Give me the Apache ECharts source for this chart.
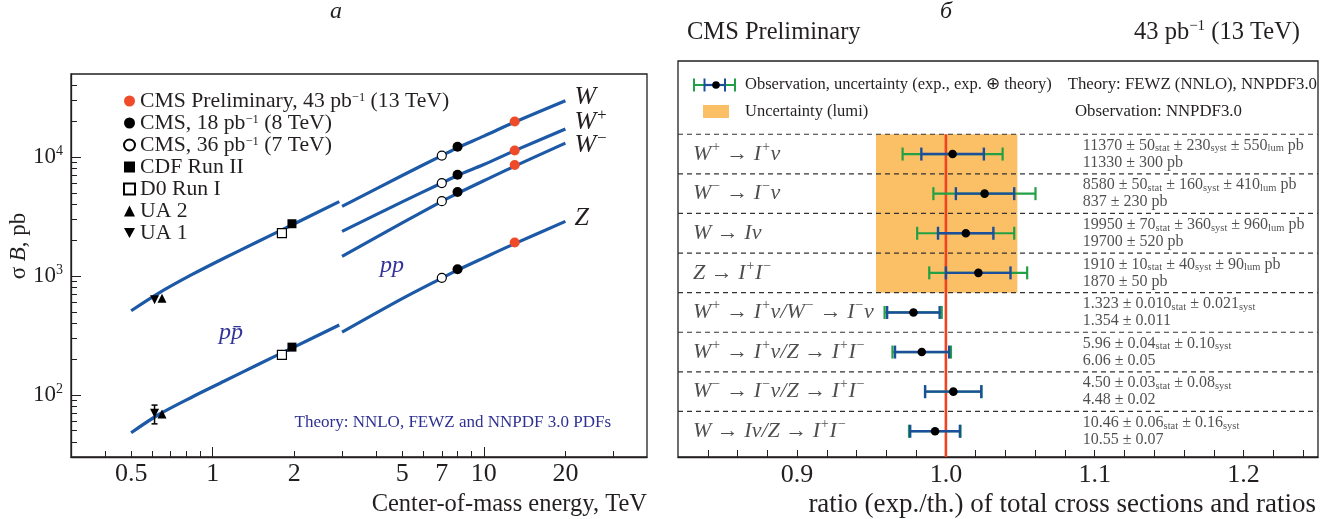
<!DOCTYPE html>
<html>
<head>
<meta charset="utf-8">
<script src="https://cdn.jsdelivr.net/npm/echarts@6/dist/echarts.min.js"></script>
<style>
  html, body { margin: 0; padding: 0; background: #fff; }
  #chart { width: 1334px; height: 519px; }
</style>
</head>
<body>
<div id="chart"></div>
<script>
// ---- panel a: sigma*B vs centre-of-mass energy (TeV, pb) ----
const ppbarE = [0.5, 0.63, 0.84, 1.1, 1.47, 1.95, 2.93];
const wPpbar = [510, 715, 1030, 1410, 1950, 2670, 4220];
const zPpbar = [48, 68, 96, 130, 180, 246, 387];
const ppE = [3, 5, 7, 8, 10, 13, 20];
const wPp = [3850, 7000, 10300, 12000, 15000, 19700, 29800];
const wPlusPp = [2370, 4200, 6050, 7000, 8650, 11330, 17200];
const wMinusPp = [1460, 2800, 4240, 4950, 6320, 8400, 13100];
const zPp = [337, 645, 960, 1120, 1420, 1870, 2880];

// measurements: W, W+, W-, Z  (or W, Z for ppbar)
const cms13E = 13, cms13 = [19950, 11370, 8580, 1910];
const cms8E = 8, cms8 = [12200, 7100, 5080, 1140];
const cms7E = 7, cms7 = [10300, 6040, 4260, 965];
const cdfE = 1.96, cdf = [2750, 252];
const d0E = 1.8, d0 = [2290, 217];
const ua2E = 0.65, ua2 = [651, 69];
const ua1E = 0.61, ua1 = [631, 70];
const ua1ZErr = [57, 82];

const xLabelVals = [0.5, 1, 2, 5, 7, 10, 20];
const xMajorTicks = [1, 10];
const xMinorTicks = [0.4, 0.5, 0.6, 0.7, 0.8, 0.9, 2, 3, 4, 5, 6, 7, 8, 9, 20, 30];
const yLabelPowers = [2, 3, 4];
const yMinorTicks = [40, 50, 60, 70, 80, 90, 200, 300, 400, 500, 600, 700, 800, 900,
  2000, 3000, 4000, 5000, 6000, 7000, 8000, 9000, 20000, 30000, 40000];

const legendText = {
  cms13: '{t|CMS Preliminary, 43 pb}{s|−1}{t| (13 TeV)}',
  cms8: '{t|CMS, 18 pb}{s|−1}{t| (8 TeV)}',
  cms7: '{t|CMS, 36 pb}{s|−1}{t| (7 TeV)}',
  cdf: '{t|CDF Run II}',
  d0: '{t|D0 Run I}',
  ua2: '{t|UA 2}',
  ua1: '{t|UA 1}'
};

// ---- panel b: ratio exp./theory ----
const rowLabels = ['W⁺ → I⁺ν', 'W⁻ → I⁻ν', 'W → Iν', 'Z → I⁺I⁻',
  'W⁺ → I⁺ν/W⁻ → I⁻ν', 'W⁺ → I⁺ν/Z → I⁺I⁻', 'W⁻ → I⁻ν/Z → I⁺I⁻', 'W → Iν/Z → I⁺I⁻'];
const ratio = [1.0045, 1.026, 1.0134, 1.0218, 0.9782, 0.9838, 1.005, 0.9927];
const expLo = [0.9835, 1.0067, 0.9947, 1.0, 0.9605, 0.9658, 0.986, 0.9760];
const expHi = [1.0255, 1.0459, 1.0319, 1.0434, 0.9958, 1.0022, 1.0238, 1.0094];
const totLo = [0.9709, 0.9916, 0.9807, 0.9888, 0.9588, 0.9641, 0.986, 0.9752];
const totHi = [1.0381, 1.0602, 1.0459, 1.0546, 0.9972, 1.0034, 1.0238, 1.0098];
const measured = [
  '11370 ± 50_stat ± 230_syst ± 550_lum pb',
  '8580 ± 50_stat ± 160_syst ± 410_lum pb',
  '19950 ± 70_stat ± 360_syst ± 960_lum pb',
  '1910 ± 10_stat ± 40_syst ± 90_lum pb',
  '1.323 ± 0.010_stat ± 0.021_syst',
  '5.96 ± 0.04_stat ± 0.10_syst',
  '4.50 ± 0.03_stat ± 0.08_syst',
  '10.46 ± 0.06_stat ± 0.16_syst'
];
const predicted = ['11330 ± 300 pb', '837 ± 230 pb', '19700 ± 520 pb', '1870 ± 50 pb',
  '1.354 ± 0.011', '6.06 ± 0.05', '4.48 ± 0.02', '10.55 ± 0.07'];
const lumiBand = [0.953, 1.048];
const separators = [-0.5, 0.5, 1.5, 2.5, 3.5, 4.5, 5.5, 6.5];
const ratioTicks = [0.84, 0.86, 0.88, 0.9, 0.92, 0.94, 0.96, 0.98, 1.0, 1.02, 1.04, 1.06,
  1.08, 1.1, 1.12, 1.14, 1.16, 1.18, 1.2, 1.22, 1.24];
const ratioLabels = [0.9, 1.0, 1.1, 1.2];

const serif = 'Liberation Serif';
const ink = '#231f20';
const curveBlue = '#1c59a7';
const lg = Math.log10;

function richLabel(s) {
  let out = '';
  for (const ch of s) {
    if (ch === '⁺') out += '{sp|+}';
    else if (ch === '⁻') out += '{sp|−}';
    else if (ch === '→') out += '{n|→}';
    else out += ch;
  }
  return out;
}
const richValue = s => s.replace(/_(\w+)/g, '{sb|$1}');

function curve(E, S, label, offset) {
  return {
    type: 'line', xAxisIndex: 0, yAxisIndex: 0, silent: true, z: 2,
    data: E.map((e, i) => [lg(e), lg(S[i])]),
    smooth: 0.3, symbol: 'none',
    lineStyle: { color: curveBlue, width: 3.2 },
    endLabel: {
      show: !!label, formatter: label || '', distance: 9, offset: offset || [0, 0],
      color: ink, fontFamily: serif, fontStyle: 'italic', fontSize: 26, lineHeight: 30,
      rich: { s: { fontFamily: serif, fontStyle: 'italic', fontSize: 17, lineHeight: 16, verticalAlign: 'top', color: ink } }
    }
  };
}

function points(name, E, S, symbol, color, size, hollow) {
  return {
    type: 'scatter', name, xAxisIndex: 0, yAxisIndex: 0, z: 5,
    data: S.map(s => [lg(E), lg(s)]),
    symbol, symbolSize: size,
    itemStyle: hollow
      ? { color: '#fff', borderColor: color, borderWidth: 1.2, opacity: 1 }
      : { color, opacity: 1 }
  };
}

const chart = echarts.init(document.getElementById('chart'));

const option = {
  animation: false,
  backgroundColor: '#fff',
  textStyle: { fontFamily: serif },
  grid: [
    { left: 71, top: 74, width: 576, height: 383, show: true, borderColor: ink, borderWidth: 1.3 },
    { left: 678, top: 61, width: 640, height: 396, show: true, borderColor: ink, borderWidth: 1.3 }
  ],
  xAxis: [
    {
      gridIndex: 0, type: 'value', min: lg(0.3), max: lg(40), position: 'bottom',
      axisLine: { onZero: false, lineStyle: { color: ink, width: 1.3 } },
      axisTick: { inside: true, length: 10, customValues: xMajorTicks.map(lg), lineStyle: { color: ink, width: 1 } },
      axisLabel: {
        customValues: xLabelVals.map(lg), margin: 4,
        formatter: v => String(Math.round(Math.pow(10, v) * 10) / 10),
        fontFamily: serif, fontSize: 26, color: ink
      },
      splitLine: { show: false }
    },
    {
      gridIndex: 0, type: 'value', min: lg(0.3), max: lg(40), position: 'bottom',
      axisLine: { show: false, onZero: false },
      axisTick: { inside: true, length: 6, customValues: xMinorTicks.map(lg), lineStyle: { color: ink, width: 1 } },
      axisLabel: { show: false },
      splitLine: { show: false }
    },
    {
      gridIndex: 1, type: 'value', min: 0.82, max: 1.25, position: 'bottom',
      axisLine: { onZero: false, lineStyle: { color: ink, width: 1.3 } },
      axisTick: { inside: true, length: 7, customValues: ratioTicks, lineStyle: { color: ink, width: 1 } },
      axisLabel: {
        customValues: ratioLabels, margin: 5, formatter: v => v.toFixed(1),
        fontFamily: serif, fontSize: 26, color: ink
      },
      splitLine: { show: false }
    }
  ],
  yAxis: [
    {
      gridIndex: 0, type: 'value', min: lg(30), max: lg(50000), position: 'left',
      axisLine: { onZero: false, lineStyle: { color: ink, width: 1.3 } },
      axisTick: { inside: true, length: 10, customValues: yLabelPowers, lineStyle: { color: ink, width: 1 } },
      axisLabel: {
        customValues: yLabelPowers, margin: 8,
        formatter: v => '10{s|' + v + '}',
        fontFamily: serif, fontSize: 23, color: ink, lineHeight: 26,
        rich: { s: { fontFamily: serif, fontSize: 14, lineHeight: 16, verticalAlign: 'top', color: ink } }
      },
      splitLine: { show: false }
    },
    {
      gridIndex: 0, type: 'value', min: lg(30), max: lg(50000), position: 'left',
      axisLine: { show: false, onZero: false },
      axisTick: { inside: true, length: 6, customValues: yMinorTicks.map(lg), lineStyle: { color: ink, width: 1 } },
      axisLabel: { show: false },
      splitLine: { show: false }
    },
    {
      gridIndex: 1, type: 'value', inverse: true, min: -2.35, max: 7.65, show: false,
      axisLine: { onZero: false }
    }
  ],
  legend: {
    orient: 'vertical', left: 118, top: 85, itemWidth: 11, itemHeight: 11, itemGap: 0,
    selectedMode: false,
    data: ['cms13', 'cms8', 'cms7', 'cdf', 'd0', 'ua2', 'ua1'],
    formatter: n => legendText[n],
    textStyle: {
      fontFamily: serif, fontSize: 21.7, color: ink, lineHeight: 20,
      rich: {
        t: { fontFamily: serif, fontSize: 21.7, lineHeight: 20, color: ink },
        s: { fontFamily: serif, fontSize: 12.5, lineHeight: 10, verticalAlign: 'top', color: ink }
      }
    }
  },
  graphic: [
    { type: 'text', x: 336, y: 12, style: { text: 'а', fontFamily: serif, fontStyle: 'italic', fontSize: 24, fill: ink, align: 'center', verticalAlign: 'middle' } },
    { type: 'text', x: 946, y: 12, style: { text: 'б', fontFamily: serif, fontStyle: 'italic', fontSize: 24, fill: ink, align: 'center', verticalAlign: 'middle' } },
    {
      type: 'text', x: 19, y: 246, rotation: Math.PI / 2,
      style: {
        text: 'σ {i|B}, pb', fontFamily: serif, fontSize: 23, fill: ink, align: 'center', verticalAlign: 'middle',
        rich: { i: { fontFamily: serif, fontStyle: 'italic', fontSize: 23, fill: ink } }
      }
    },
    { type: 'text', x: 647, y: 505, style: { text: 'Center-of-mass energy, TeV', fontFamily: serif, fontSize: 24.5, fill: ink, align: 'right', verticalAlign: 'middle' } },
    { type: 'text', x: 392, y: 266, style: { text: 'pp', fontFamily: serif, fontStyle: 'italic', fontSize: 24, fill: '#33339a', align: 'center', verticalAlign: 'middle' } },
    { type: 'text', x: 231, y: 333, style: { text: 'pp\u0304', fontFamily: serif, fontStyle: 'italic', fontSize: 24, fill: '#33339a', align: 'center', verticalAlign: 'middle' } },
    { type: 'text', x: 611, y: 423, style: { text: 'Theory: NNLO, FEWZ and NNPDF 3.0 PDFs', fontFamily: serif, fontSize: 17, fill: '#2e3192', align: 'right', verticalAlign: 'middle' } },

    { type: 'text', x: 687, y: 33, style: { text: 'CMS Preliminary', fontFamily: serif, fontSize: 24.5, fill: ink, align: 'left', verticalAlign: 'middle' } },
    {
      type: 'text', x: 1300, y: 33,
      style: {
        text: '43 pb{s|−1} (13 TeV)', fontFamily: serif, fontSize: 24.5, fill: ink, align: 'right', verticalAlign: 'middle', lineHeight: 28,
        rich: { s: { fontFamily: serif, fontSize: 15, lineHeight: 14, verticalAlign: 'top', fill: ink } }
      }
    },
    { type: 'line', shape: { x1: 694, y1: 85, x2: 735, y2: 85 }, style: { stroke: '#22a046', lineWidth: 2 } },
    { type: 'line', shape: { x1: 694, y1: 78.5, x2: 694, y2: 91.5 }, style: { stroke: '#22a046', lineWidth: 2 } },
    { type: 'line', shape: { x1: 735, y1: 78.5, x2: 735, y2: 91.5 }, style: { stroke: '#22a046', lineWidth: 2 } },
    { type: 'line', shape: { x1: 704.5, y1: 85, x2: 725, y2: 85 }, style: { stroke: '#1b4f9c', lineWidth: 2.2 } },
    { type: 'line', shape: { x1: 704.5, y1: 78.5, x2: 704.5, y2: 91.5 }, style: { stroke: '#1b4f9c', lineWidth: 2 } },
    { type: 'line', shape: { x1: 725, y1: 78.5, x2: 725, y2: 91.5 }, style: { stroke: '#1b4f9c', lineWidth: 2 } },
    { type: 'circle', shape: { cx: 716, cy: 85, r: 3.8 }, style: { fill: '#000' } },
    { type: 'text', x: 745, y: 85, style: { text: 'Observation, uncertainty (exp., exp. ⊕ theory)', fontFamily: serif, fontSize: 16.5, fill: ink, align: 'left', verticalAlign: 'middle' } },
    { type: 'text', x: 1317, y: 85, style: { text: 'Theory: FEWZ (NNLO), NNPDF3.0', fontFamily: serif, fontSize: 16.8, fill: ink, align: 'right', verticalAlign: 'middle' } },
    { type: 'rect', shape: { x: 703, y: 105, width: 26, height: 13 }, style: { fill: '#fbbf66' } },
    { type: 'text', x: 745, y: 112, style: { text: 'Uncertainty (lumi)', fontFamily: serif, fontSize: 16.5, fill: ink, align: 'left', verticalAlign: 'middle' } },
    { type: 'text', x: 1075, y: 112, style: { text: 'Observation: NNPDF3.0', fontFamily: serif, fontSize: 16.8, fill: ink, align: 'left', verticalAlign: 'middle' } },
    { type: 'text', x: 1316, y: 505, style: { text: 'ratio (exp./th.) of total cross sections and ratios', fontFamily: serif, fontSize: 27, fill: ink, align: 'right', verticalAlign: 'middle' } }
  ],
  series: [
    // theory curves
    curve(ppbarE, wPpbar, null),
    curve(ppbarE, zPpbar, null),
    curve(ppE, wPp, 'W', [0, -4]),
    curve(ppE, wPlusPp, 'W{s|+}', [0, -7]),
    curve(ppE, wMinusPp, 'W{s|−}', [0, 2]),
    curve(ppE, zPp, 'Z', [0, -3]),
    // measurements
    points('cms13', cms13E, cms13, 'circle', '#ef4a2a', 10),
    points('cms8', cms8E, cms8, 'circle', '#000', 10),
    points('cms7', cms7E, cms7, 'circle', '#000', 9, true),
    points('cdf', cdfE, cdf, 'rect', '#000', 9),
    points('d0', d0E, d0, 'rect', '#000', 9, true),
    points('ua2', ua2E, ua2, 'triangle', '#000', 9),
    points('ua1', ua1E, ua1, 'path://M0,0L10,0L5,9Z', '#000', 9),
    {
      type: 'custom', xAxisIndex: 0, yAxisIndex: 0, z: 6, silent: true,
      data: [[lg(ua1E), lg(ua1ZErr[0]), lg(ua1ZErr[1])]],
      renderItem: (params, api) => {
        const lo = api.coord([api.value(0), api.value(1)]);
        const hi = api.coord([api.value(0), api.value(2)]);
        const st = { stroke: '#000', lineWidth: 1.5 };
        return {
          type: 'group', children: [
            { type: 'line', shape: { x1: lo[0], y1: lo[1], x2: hi[0], y2: hi[1] }, style: st },
            { type: 'line', shape: { x1: lo[0] - 3, y1: lo[1], x2: lo[0] + 3, y2: lo[1] }, style: st },
            { type: 'line', shape: { x1: hi[0] - 3, y1: hi[1], x2: hi[0] + 3, y2: hi[1] }, style: st }
          ]
        };
      }
    },

    // panel b: lumi band
    {
      type: 'custom', xAxisIndex: 2, yAxisIndex: 2, z: 1, silent: true,
      data: [[lumiBand[0], lumiBand[1], -0.5, 3.5]],
      renderItem: (params, api) => {
        const p0 = api.coord([api.value(0), api.value(2)]);
        const p1 = api.coord([api.value(1), api.value(3)]);
        return { type: 'rect', shape: { x: p0[0], y: p0[1], width: p1[0] - p0[0], height: p1[1] - p0[1] }, style: { fill: '#fbbf66' } };
      }
    },
    // dashed separators
    {
      type: 'custom', xAxisIndex: 2, yAxisIndex: 2, z: 2, silent: true,
      data: separators.map(v => [v]),
      renderItem: (params, api) => {
        const y = api.coord([1, api.value(0)])[1];
        const cs = params.coordSys;
        return { type: 'line', shape: { x1: cs.x, y1: y, x2: cs.x + cs.width, y2: y }, style: { stroke: '#333', lineWidth: 1.2, lineDash: [5, 4] } };
      }
    },
    // reference line at 1
    {
      type: 'custom', xAxisIndex: 2, yAxisIndex: 2, z: 3, silent: true,
      data: [[1, -0.5, 7.65]],
      renderItem: (params, api) => {
        const a = api.coord([api.value(0), api.value(1)]);
        const b = api.coord([api.value(0), api.value(2)]);
        return { type: 'line', shape: { x1: a[0], y1: a[1], x2: b[0], y2: b[1] }, style: { stroke: '#ee4422', lineWidth: 2.6 } };
      }
    },
    // error bars
    {
      type: 'custom', xAxisIndex: 2, yAxisIndex: 2, z: 4, silent: true,
      data: ratio.map((r, i) => [i, r, expLo[i], expHi[i], totLo[i], totHi[i]]),
      renderItem: (params, api) => {
        const row = api.value(0);
        const y = api.coord([1, row])[1];
        const px = v => api.coord([v, row])[0];
        const cap = 6.5;
        const kids = [];
        const bar = (lo, hi, color, w) => {
          const st = { stroke: color, lineWidth: w };
          kids.push({ type: 'line', shape: { x1: px(lo), y1: y, x2: px(hi), y2: y }, style: st });
          kids.push({ type: 'line', shape: { x1: px(lo), y1: y - cap, x2: px(lo), y2: y + cap }, style: st });
          kids.push({ type: 'line', shape: { x1: px(hi), y1: y - cap, x2: px(hi), y2: y + cap }, style: st });
        };
        bar(api.value(4), api.value(5), '#22a046', 2.2);
        bar(api.value(2), api.value(3), '#1b4f9c', 2.4);
        kids.push({ type: 'circle', shape: { cx: px(api.value(1)), cy: y, r: 4.3 }, style: { fill: '#000' } });
        return { type: 'group', children: kids };
      }
    },
    // row labels
    {
      type: 'scatter', xAxisIndex: 2, yAxisIndex: 2, z: 5, silent: true, symbolSize: 0,
      data: rowLabels.map((t, i) => [0.8301, i, t]),
      label: {
        show: true, position: 'inside', align: 'left', verticalAlign: 'middle',
        formatter: p => richLabel(p.data[2]),
        fontFamily: serif, fontStyle: 'italic', fontSize: 22, lineHeight: 28, color: ink,
        rich: {
          sp: { fontFamily: serif, fontStyle: 'italic', fontSize: 14, lineHeight: 16, verticalAlign: 'top', color: ink },
          n: { fontFamily: serif, fontSize: 22, lineHeight: 28, color: ink }
        }
      }
    },
    // measured / predicted values
    {
      type: 'scatter', xAxisIndex: 2, yAxisIndex: 2, z: 5, silent: true, symbolSize: 0,
      data: measured.map((t, i) => [1.092, i, t]),
      label: {
        show: true, position: 'inside', align: 'left', verticalAlign: 'middle',
        formatter: p => richValue(p.data[2]) + '\n' + predicted[p.dataIndex],
        fontFamily: serif, fontSize: 16, lineHeight: 17, color: ink,
        rich: { sb: { fontFamily: serif, fontSize: 10.5, lineHeight: 9, verticalAlign: 'bottom', color: ink } }
      }
    }
  ]
};

chart.setOption(option);
</script>
</body>
</html>
